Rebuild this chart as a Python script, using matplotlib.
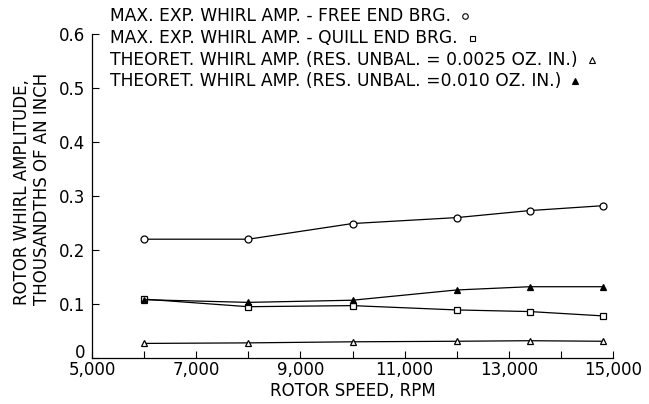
import matplotlib
matplotlib.use("Agg")
import matplotlib.pyplot as plt
from matplotlib.lines import Line2D

# ---- data ----
speed = [6000, 8000, 10000, 12000, 13400, 14800]
free_end = [0.220, 0.220, 0.249, 0.260, 0.273, 0.282]
quill_end = [0.109, 0.095, 0.097, 0.089, 0.086, 0.078]
theo_0025 = [0.027, 0.028, 0.030, 0.031, 0.032, 0.031]
theo_010 = [0.108, 0.103, 0.107, 0.126, 0.132, 0.132]

x_major = [5000, 7000, 9000, 11000, 13000, 15000]
x_major_labels = ["5,000", "7,000", "9,000", "11,000", "13,000", "15,000"]
x_minor = [6000, 8000, 10000, 12000, 14000]
y_ticks = [0, 0.1, 0.2, 0.3, 0.4, 0.5, 0.6]
y_labels = ["0", "0.1", "0.2", "0.3", "0.4", "0.5", "0.6"]

legend_labels = [
    "MAX. EXP. WHIRL AMP. - FREE END BRG.",
    "MAX. EXP. WHIRL AMP. - QUILL END BRG.",
    "THEORET. WHIRL AMP. (RES. UNBAL. = 0.0025 OZ. IN.)",
    "THEORET. WHIRL AMP. (RES. UNBAL. =0.010 OZ. IN.)",
]

plt.rcParams["font.family"] = ["DejaVu Sans"]
TICK_FS = 12
LEG_FS = 12.3
LAB_FS = 12

fig = plt.figure(figsize=(6.49, 4.04), dpi=100)
ax = fig.add_axes([92/649, 1-358/404, (613-92)/649, (358-34)/404])

lw = 0.9
ms = 5
ax.plot(speed, free_end, color="black", lw=lw, marker="o", ms=ms, mfc="white", mec="black", mew=0.9)
ax.plot(speed, quill_end, color="black", lw=lw, marker="s", ms=ms-0.5, mfc="white", mec="black", mew=0.9)
ax.plot(speed, theo_010, color="black", lw=lw, marker="^", ms=ms, mfc="black", mec="black", mew=0.9)
ax.plot(speed, theo_0025, color="black", lw=lw, marker="^", ms=ms, mfc="white", mec="black", mew=0.9)

ax.set_xlim(5000, 15000)
ax.set_ylim(0, 0.6)
ax.set_xticks(x_major)
ax.set_xticklabels(x_major_labels, fontsize=TICK_FS)
ax.set_xticks(x_minor, minor=True)
ax.set_yticks(y_ticks)
ax.set_yticklabels(y_labels, fontsize=TICK_FS)
ax.get_yticklabels()[0].set_verticalalignment("baseline")
ax.tick_params(axis="both", which="both", direction="in", length=5, width=0.8, color="black")
ax.tick_params(axis="x", pad=2)
ax.tick_params(axis="y", pad=5)
for s in ["top", "right"]:
    ax.spines[s].set_visible(False)
for s in ["left", "bottom"]:
    ax.spines[s].set_linewidth(0.9)

ax.set_xlabel("ROTOR SPEED, RPM", fontsize=LAB_FS, labelpad=2)
fig.text(32/649, 1-305/404, "ROTOR WHIRL AMPLITUDE,\nTHOUSANDTHS OF AN INCH",
         fontsize=LAB_FS, rotation=90, ha="center", va="bottom",
         multialignment="left", linespacing=1.15)

# legend as text lines with markers following text
markers = [("o", "white", 4), ("s", "white", 3.6), ("^", "white", 4), ("^", "black", 4)]
ys = [16, 38, 60, 81]
texts = []
for lab, yp in zip(legend_labels, ys):
    t = fig.text(110/649, 1-yp/404, lab, fontsize=LEG_FS, va="center", ha="left")
    texts.append(t)
fig.canvas.draw()
r = fig.canvas.get_renderer()
for t, (m, fc, s), yp in zip(texts, markers, ys):
    bb = t.get_window_extent(renderer=r)
    xm = (bb.x1 + 14) / fig.bbox.width
    fig.add_artist(Line2D([xm], [1-yp/404], transform=fig.transFigure, marker=m,
                          ms=s, mfc=fc, mec="black", mew=0.8, linestyle="none"))

fig.savefig("out.png", dpi=100)
